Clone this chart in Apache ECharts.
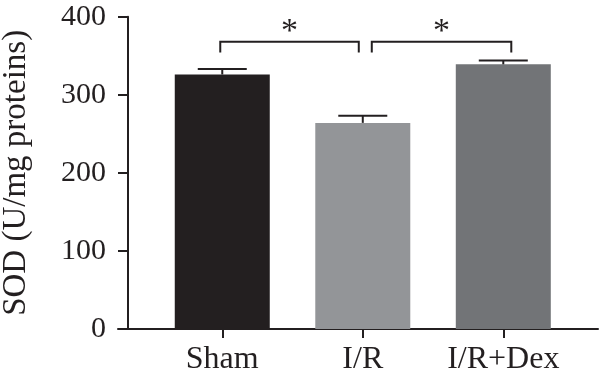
<!DOCTYPE html>
<html>
<head>
<meta charset="utf-8">
<script src="https://cdn.jsdelivr.net/npm/echarts@6/dist/echarts.min.js"></script>
<style>html,body{margin:0;padding:0;background:#fff}#c{width:600px;height:382px}</style>
</head>
<body>
<div id="c"></div>
<script>
const categories = ['Sham', 'I/R', 'I/R+Dex'];
const means = [326, 264, 339];
const errors = [7, 9, 5];
const yTicks = [0, 100, 200, 300, 400];
const sigPairs = [[0, 1], [1, 2]];
const sigLabels = ['*', '*'];
const bracketTop = [368, 368];
const bracketFoot = [354, 354];

const INK = '#231f20';
const barColors = ['#231f20', '#939598', '#727477'];
const FONT = 'Liberation Serif';
const bracketInset = [[-2, -4], [9, 8]];

const chart = echarts.init(document.getElementById('c'), null, {renderer: 'canvas'});
const catIdx = categories.map((c, i) => i);

chart.setOption({
  animation: false,
  backgroundColor: '#fff',
  grid: {left: 118, right: 2, top: 16.7, bottom: 53, containLabel: false, outerBoundsMode: 'none'},
  xAxis: {
    type: 'value',
    min: -0.742,
    max: 2.674,
    splitLine: {show: false},
    axisLine: {show: true, onZero: false, lineStyle: {color: INK, width: 2}},
    axisTick: {show: true, customValues: catIdx, length: 9, lineStyle: {color: INK, width: 2}},
    axisLabel: {show: true, customValues: catIdx, formatter: v => categories[Math.round(v)],
      color: INK, fontFamily: FONT, fontSize: 32, margin: 15}
  },
  yAxis: {
    type: 'value',
    min: yTicks[0],
    max: yTicks[yTicks.length - 1],
    interval: 100,
    offset: -10,
    name: 'SOD (U/mg proteins)',
    nameLocation: 'middle',
    nameGap: 95,
    nameTextStyle: {color: INK, fontFamily: FONT, fontSize: 33},
    splitLine: {show: false},
    axisLine: {show: true, onZero: false, lineStyle: {color: INK, width: 2}},
    axisTick: {show: true, length: 10, lineStyle: {color: INK, width: 2}},
    axisLabel: {color: INK, fontFamily: FONT, fontSize: 30, margin: 22}
  },
  series: [
    {
      type: 'bar',
      barWidth: 95,
      data: means.map((m, i) => ({value: [i, m], itemStyle: {color: barColors[i]}}))
    },
    {
      type: 'custom',
      renderItem: function (params, api) {
        const x = api.value(0), m = api.value(1), e = api.value(2);
        const base = api.coord([x, m]);
        const top = api.coord([x, m + e]);
        return {
          type: 'group',
          children: [
            {type: 'line', shape: {x1: top[0], y1: base[1], x2: top[0], y2: top[1]}, style: {stroke: INK, lineWidth: 2}},
            {type: 'line', shape: {x1: top[0] - 24.5, y1: top[1], x2: top[0] + 24.5, y2: top[1]}, style: {stroke: INK, lineWidth: 2}}
          ]
        };
      },
      data: means.map((m, i) => [i, m, errors[i]]),
      z: 3
    },
    {
      type: 'custom',
      renderItem: function (params, api) {
        const i = params.dataIndex;
        const a = api.value(0), b = api.value(1), t = api.value(2), f = api.value(3);
        const pa = api.coord([a, t]), pb = api.coord([b, t]);
        const fa = api.coord([a, f]);
        const x1 = pa[0] + bracketInset[i][0], x2 = pb[0] + bracketInset[i][1];
        return {
          type: 'group',
          children: [
            {type: 'polyline', shape: {points: [[x1, fa[1]], [x1, pa[1]], [x2, pa[1]], [x2, fa[1]]]},
              style: {stroke: INK, lineWidth: 2, fill: null}},
            {type: 'text', x: (x1 + x2) / 2, y: pa[1] + 7,
              style: {text: sigLabels[i], fill: INK, font: '34px "Liberation Serif"', align: 'center', verticalAlign: 'bottom'}}
          ]
        };
      },
      data: sigPairs.map((p, i) => [p[0], p[1], bracketTop[i], bracketFoot[i]]),
      z: 4
    }
  ]
});
</script>
</body>
</html>
